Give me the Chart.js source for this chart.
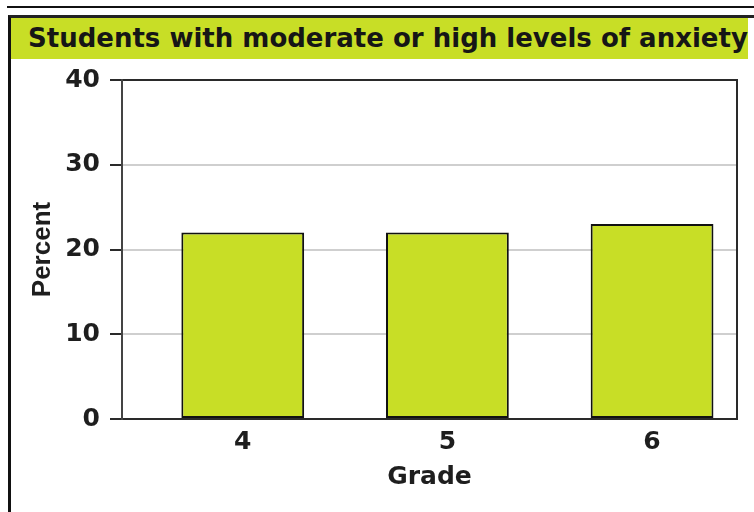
<!DOCTYPE html>
<html>
<head>
<meta charset="utf-8">
<script src="https://cdn.jsdelivr.net/npm/chart.js@4"></script>
<style>
  body { margin: 0; background: #fff; }
  #page { position: relative; width: 754px; height: 512px; overflow: hidden; }
  .rule { position: absolute; left: 7px; top: 6px; width: 747px; height: 2px; background: #111; }
  .box { position: absolute; left: 8px; top: 15px; width: 760px; height: 520px;
         border-top: 3px solid #222; border-left: 3px solid #111; box-sizing: border-box; }
  .titlebar { position: absolute; left: 11px; top: 18px; width: 737px; height: 41px;
              background: #c8de26; font: bold 26px "DejaVu Sans", sans-serif; color: #161616;
              line-height: 41px; padding-left: 17px; box-sizing: border-box; white-space: nowrap; }
  #wrap { position: absolute; left: 0; top: 0; width: 754px; height: 512px; }
</style>
</head>
<body>
<div id="page">
  <div class="rule"></div>
  <div class="box"></div>
  <div class="titlebar">Students with moderate or high levels of anxiety</div>
  <div id="wrap"><canvas id="chart"></canvas></div>
</div>
<script>
// data
const grades = [4, 5, 6];
const percent = [22, 22, 23];
const yTicks = [0, 10, 20, 30, 40];

const barColor = '#c8de26';
const dark = '#2a2a2a';

// right-hand edge of the plot frame
const frame = {
  id: 'frame',
  afterDraw(chart) {
    const { ctx, chartArea: a } = chart;
    ctx.save();
    ctx.strokeStyle = dark;
    ctx.lineWidth = 2;
    ctx.beginPath();
    ctx.moveTo(a.right, a.top - 1);
    ctx.lineTo(a.right, a.bottom + 1);
    ctx.stroke();
    ctx.restore();
  }
};

Chart.defaults.font.family = '"DejaVu Sans", sans-serif';
Chart.defaults.font.weight = 'bold';
Chart.defaults.font.size = 25;
Chart.defaults.color = '#1e1e1e';

new Chart(document.getElementById('chart'), {
  type: 'bar',
  data: {
    labels: grades,
    datasets: [{
      label: 'Percent',
      data: percent,
      backgroundColor: barColor,
      borderColor: '#111',
      borderWidth: 2,
      borderSkipped: false,
      categoryPercentage: 1,
      barPercentage: 0.6
    }]
  },
  options: {
    responsive: true,
    maintainAspectRatio: false,
    animation: false,
    layout: { padding: { top: 80, right: 17, bottom: 0, left: 0 } },
    plugins: { legend: { display: false }, tooltip: { enabled: false } },
    scales: {
      x: {
        type: 'linear',
        offset: false,
        min: 3.41,
        max: 6.415,
        afterBuildTicks: s => { s.ticks = grades.map(v => ({ value: v })); },
        afterFit: s => { s.height = 93; },
        grid: { display: false, drawTicks: false },
        border: { display: false },
        ticks: { padding: 8 },
        title: { display: true, text: 'Grade', padding: { top: 0, bottom: 20 } }
      },
      y: {
        min: 0,
        max: 40,
        afterBuildTicks: s => { s.ticks = yTicks.map(v => ({ value: v })); },
        afterFit: s => { s.width = 122; },
        grid: {
          color: c => (c.tick.value === 0 || c.tick.value === 40) ? dark : '#cfcfcf',
          lineWidth: 2,
          tickLength: 12,
          tickColor: dark
        },
        border: { color: '#444', width: 2 },
        ticks: { padding: 10 },
        title: {
          display: true,
          text: 'Percent',
          font: { family: '"Liberation Sans", Arial, sans-serif', size: 26, weight: 'bold' },
          padding: { top: 27, bottom: 0 }
        }
      }
    }
  },
  plugins: [frame]
});
</script>
</body>
</html>
